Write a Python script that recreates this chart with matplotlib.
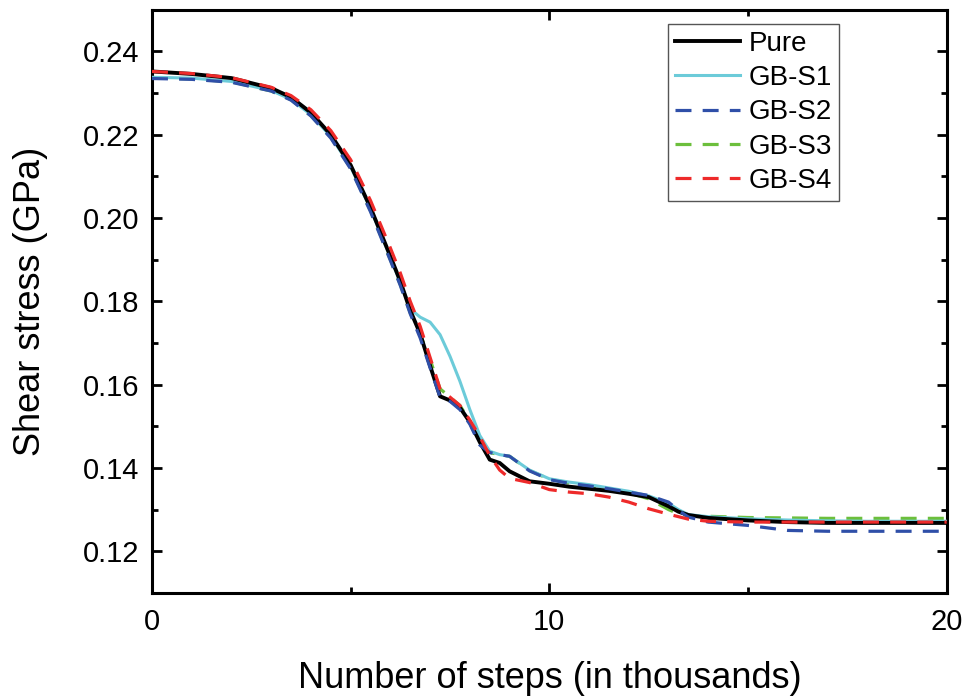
import matplotlib
matplotlib.use("Agg")
import matplotlib.pyplot as plt
from matplotlib.ticker import MultipleLocator

plt.rcParams['font.family'] = ['Liberation Sans', 'DejaVu Sans']

# steps in thousands
steps = [0, 1, 2, 3, 3.5, 4, 4.5, 5, 5.5, 6, 6.25, 6.5, 6.75, 7, 7.25, 7.5, 7.75,
         8, 8.25, 8.5, 8.75, 9, 9.5, 10, 10.5, 11, 11.5, 12, 12.5, 13, 13.25,
         13.5, 14, 15, 16, 17, 18, 19, 20]

pure = [0.2352, 0.2346, 0.2336, 0.2312, 0.2290, 0.2253, 0.2200, 0.2127, 0.2025,
        0.1908, 0.1848, 0.1778, 0.1722, 0.1645, 0.1572, 0.1562, 0.1545, 0.1510,
        0.1462, 0.1420, 0.1412, 0.1392, 0.1368, 0.1362, 0.1355, 0.1350, 0.1345,
        0.1338, 0.1330, 0.1308, 0.1295, 0.1287, 0.1280, 0.1274, 0.1270, 0.1268,
        0.1268, 0.1268, 0.1268]

gb_s1 = [0.2338, 0.2336, 0.2328, 0.2306, 0.2285, 0.2248, 0.2196, 0.2123, 0.2022,
         0.1905, 0.1845, 0.1782, 0.1762, 0.1750, 0.1720, 0.1668, 0.1608, 0.1540,
         0.1478, 0.1440, 0.1432, 0.1428, 0.1395, 0.1374, 0.1366, 0.1360, 0.1352,
         0.1344, 0.1333, 0.1315, 0.1300, 0.1288, 0.1283, 0.1278, 0.1275, 0.1273,
         0.1272, 0.1272, 0.1272]

gb_s2 = [0.2335, 0.2333, 0.2326, 0.2305, 0.2283, 0.2245, 0.2192, 0.2118, 0.2015,
         0.1898, 0.1838, 0.1770, 0.1712, 0.1640, 0.1570, 0.1560, 0.1540, 0.1505,
         0.1455, 0.1437, 0.1432, 0.1428, 0.1393, 0.1372, 0.1363, 0.1357, 0.1350,
         0.1342, 0.1334, 0.1318, 0.1298, 0.1282, 0.1270, 0.1262, 0.1250, 0.1248,
         0.1248, 0.1248, 0.1248]

gb_s3 = [0.2337, 0.2334, 0.2327, 0.2305, 0.2284, 0.2246, 0.2194, 0.2120, 0.2018,
         0.1900, 0.1840, 0.1772, 0.1720, 0.1660, 0.1590, 0.1570, 0.1550, 0.1512,
         0.1462, 0.1437, 0.1432, 0.1428, 0.1394, 0.1373, 0.1364, 0.1358, 0.1350,
         0.1340, 0.1326, 0.1300, 0.1290, 0.1285, 0.1284, 0.1281, 0.1280, 0.1279,
         0.1279, 0.1279, 0.1279]

gb_s4 = [0.2352, 0.2347, 0.2337, 0.2314, 0.2294, 0.2260, 0.2210, 0.2140, 0.2042,
         0.1928, 0.1868, 0.1800, 0.1740, 0.1665, 0.1590, 0.1570, 0.1550, 0.1515,
         0.1475, 0.1430, 0.1395, 0.1375, 0.1365, 0.1348, 0.1342, 0.1338, 0.1330,
         0.1318, 0.1302, 0.1289, 0.1283, 0.1277, 0.1272, 0.1270, 0.1270, 0.1270,
         0.1270, 0.1270, 0.1270]

fig = plt.figure(figsize=(9.68, 7.0), dpi=100)
ax = fig.add_axes([0.157, 0.153, 0.821, 0.833])

ax.plot(steps, pure, color='black', lw=2.8, label='Pure', zorder=5)
ax.plot(steps, gb_s1, color='#6ccbd9', lw=2.2, label='GB-S1', zorder=4)
ax.plot(steps, gb_s2, color='#2f4fa8', lw=2.3, dashes=(5, 3.5), label='GB-S2', zorder=6)
ax.plot(steps, gb_s3, color='#6cbf3c', lw=2.3, dashes=(5, 3.5), label='GB-S3', zorder=3)
ax.plot(steps, gb_s4, color='#ee2a2a', lw=2.3, dashes=(5, 3.5), label='GB-S4', zorder=7)

ax.set_xlim(0, 20)
ax.set_ylim(0.11, 0.25)
ax.xaxis.set_major_locator(MultipleLocator(10))
ax.xaxis.set_minor_locator(MultipleLocator(5))
ax.yaxis.set_major_locator(MultipleLocator(0.02))
ax.yaxis.set_minor_locator(MultipleLocator(0.01))
ax.yaxis.set_major_formatter(plt.FormatStrFormatter('%.2f'))

ax.tick_params(which='both', direction='in', top=True, right=True, width=2)
ax.tick_params(which='major', length=7, labelsize=21)
ax.tick_params(axis='x', which='major', pad=11)
ax.tick_params(axis='y', which='major', pad=9)
ax.tick_params(which='minor', length=4)
for s in ax.spines.values():
    s.set_linewidth(2.2)

ax.set_xlabel('Number of steps (in thousands)', fontsize=26, labelpad=18)
ax.set_ylabel('Shear stress (GPa)', fontsize=26, labelpad=25)

leg = ax.legend(loc='upper right', bbox_to_anchor=(0.864, 0.976), borderaxespad=0,
                fontsize=20, handlelength=2.35, handletextpad=0.3, labelspacing=0.3,
                borderpad=0.25, fancybox=False, edgecolor='#555555', framealpha=1)
leg.get_frame().set_linewidth(1.0)

fig.savefig('out.png', dpi=100)
